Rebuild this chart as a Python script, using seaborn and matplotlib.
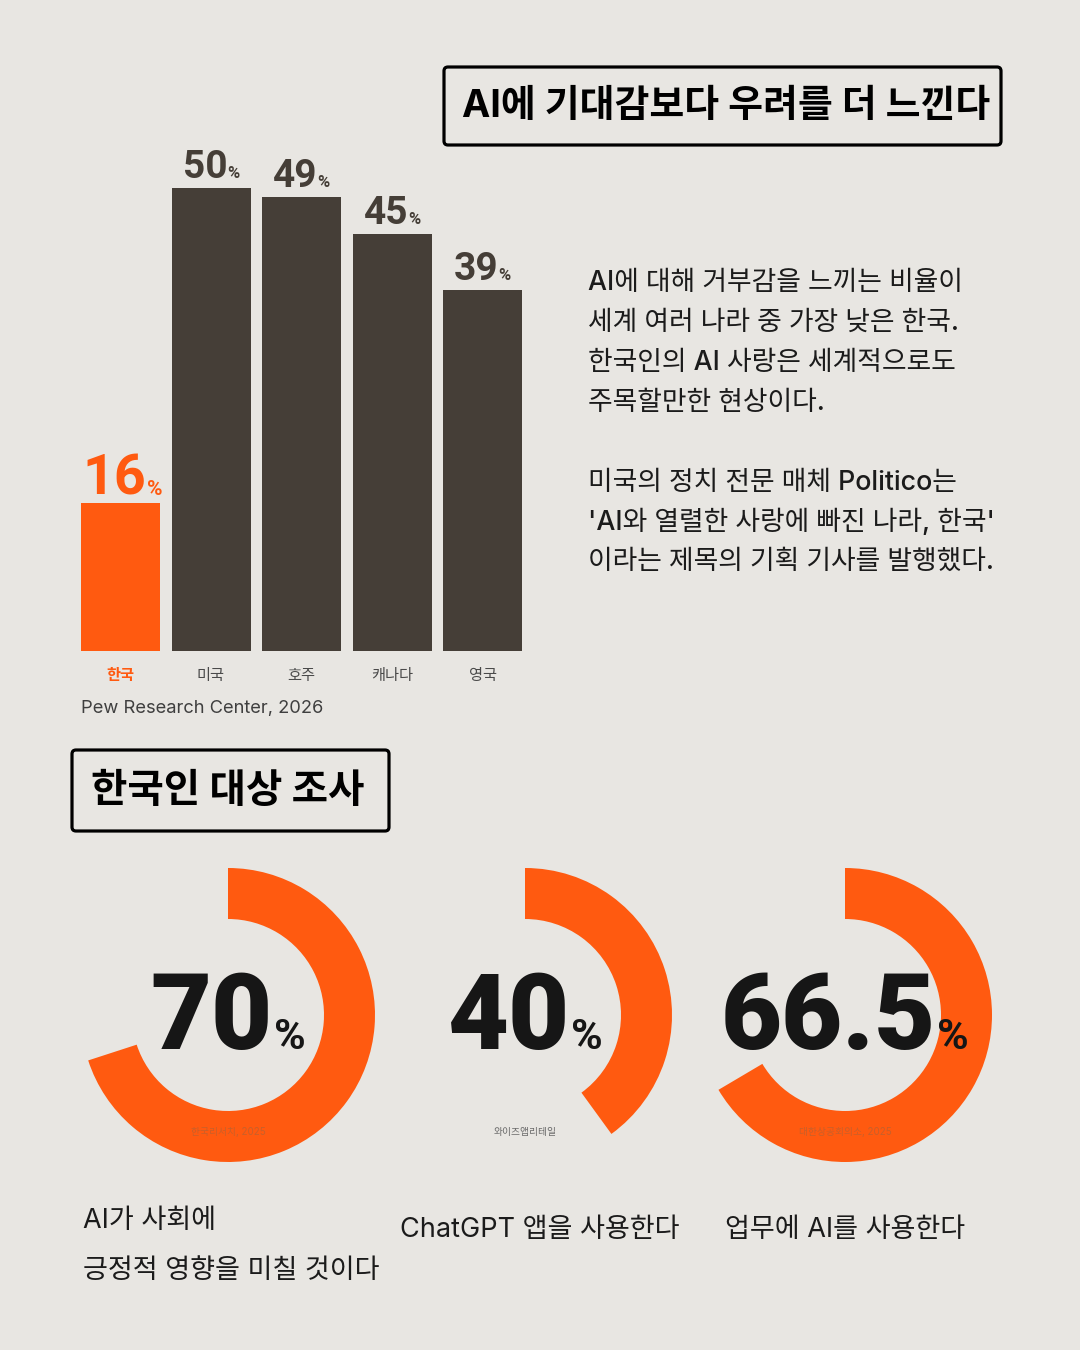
import numpy as np
import pandas as pd
import matplotlib
matplotlib.use("Agg")
import matplotlib.pyplot as plt
import seaborn as sns
from matplotlib.patches import FancyBboxPatch

# data
countries = ['한국', '미국', '호주', '캐나다', '영국']
aversion = [16, 50, 49, 45, 39]
survey_values = [70, 40, 66.5]
survey_labels = ['AI가 사회에\n긍정적 영향을 미칠 것이다', 'ChatGPT 앱을 사용한다', '업무에 AI를 사용한다']
survey_sources = ['한국리서치, 2025', '와이즈앱리테일', '대한상공회의소, 2025']
bar_source = 'Pew Research Center, 2026'
title_top = 'AI에 기대감보다 우려를 더 느낀다'
title_bottom = '한국인 대상 조사'
paragraph = ['AI에 대해 거부감을 느끼는 비율이',
             '세계 여러 나라 중 가장 낮은 한국.',
             '한국인의 AI 사랑은 세계적으로도',
             '주목할만한 현상이다.',
             '',
             '미국의 정치 전문 매체 Politico는',
             "'AI와 열렬한 사랑에 빠진 나라, 한국'",
             '이라는 제목의 기획 기사를 발행했다.']

BG = '#e8e6e2'
ORANGE = '#ff5a10'
DARK = '#453e37'
INK = '#1b1b1b'

sns.set_theme(style='white')
plt.rcParams['font.family'] = ['Inter', 'Noto Sans CJK KR', 'DejaVu Sans']
KR = ['Inter', 'Noto Sans CJK KR', 'DejaVu Sans']
NUM = ['Roboto', 'DejaVu Sans']

W, H = 1080, 1350
fig = plt.figure(figsize=(W / 100, H / 100), dpi=100, facecolor=BG)


def frac(x, y, w, h):
    # pixel box (top-left origin) -> figure fraction
    return [x / W, 1 - (y + h) / H, w / W, h / H]


# background layer in pixel coordinates
bg = fig.add_axes([0, 0, 1, 1])
bg.set_xlim(0, W)
bg.set_ylim(H, 0)
bg.axis('off')
bg.patch.set_alpha(0)


def boxed_title(x0, y0, x1, y1, text, tx, size):
    box = FancyBboxPatch((x0, y0), x1 - x0, y1 - y0,
                         boxstyle='round,pad=0,rounding_size=4',
                         fc='none', ec='black', lw=2.3)
    bg.add_patch(box)
    bg.text(tx, (y0 + y1) / 2 + 1, text, fontsize=size, fontweight='bold',
            color='black', ha='left', va='center', family=KR)


boxed_title(444, 67, 1001, 145, title_top, 462, 27.3)
boxed_title(72, 750, 389, 831, title_bottom, 91, 28.5)

# paragraph on the right
for i, line in enumerate(paragraph):
    if line:
        bg.text(588, 283 + i * 39.9, line, fontsize=19.3, color=INK,
                ha='left', va='center', family=KR, fontweight='medium')

# ---- bar chart ----
pitch = 90.5
ax = fig.add_axes(frac(120.5 - pitch / 2, 188, pitch * 5, 463))
df = pd.DataFrame({'country': countries, 'value': aversion})
bar_colors = [ORANGE] + [DARK] * (len(countries) - 1)
sns.barplot(data=df, x='country', y='value', hue='country', palette=bar_colors,
            legend=False, width=79 / pitch, saturation=1, linewidth=0, ax=ax)
ax.set_xlim(-0.5, len(countries) - 0.5)
ax.set_ylim(0, 50)
ax.set_facecolor('none')
for s in ax.spines.values():
    s.set_visible(False)
ax.set_yticks([])
ax.set_xlabel('')
ax.set_ylabel('')
ax.tick_params(axis='x', length=0, pad=12, labelsize=11)
for i, lab in enumerate(ax.get_xticklabels()):
    lab.set_family(KR)
    if i == 0:
        lab.set_color(ORANGE)
        lab.set_fontweight('bold')
    else:
        lab.set_color('#4a4a4a')

bg.text(81, 708, bar_source, fontsize=13.2, color='#3f3f3f', ha='left', va='center', family=['Inter', 'DejaVu Sans'])

fig.canvas.draw()
renderer = fig.canvas.get_renderer()


def pct_label(axis, x, y, num, nsize, psize, color, dy_px, weight='bold', gap=1, dx_px=0):
    # number + small percent sign, centred together above (x, y)
    a = axis.annotate(num, (x, y), xytext=(0, 0), textcoords='offset points',
                      fontsize=nsize, fontweight=weight, color=color, family=NUM,
                      ha='left', va='baseline', annotation_clip=False, zorder=5)
    b = axis.annotate('%', (x, y), xytext=(0, 0), textcoords='offset points',
                      fontsize=psize, fontweight='bold', color=color, family=NUM,
                      ha='left', va='baseline', annotation_clip=False, zorder=5)
    wa = a.get_window_extent(renderer).width
    wb = b.get_window_extent(renderer).width
    k = 72 / 100
    start = -(wa + gap + wb) / 2 + dx_px
    a.xyann = (start * k, dy_px * k)
    b.xyann = ((start + wa + gap) * k, dy_px * k)


for i, v in enumerate(aversion):
    if i == 0:
        pct_label(ax, i, v, str(v), 40, 15, ORANGE, 8, dx_px=2, gap=0)
    else:
        pct_label(ax, i, v, str(v), 28, 12, DARK, 10, gap=0)

# ---- donuts ----
centers = [228, 525, 845]
R = 147
for cx, v, lab, src in zip(centers, survey_values, survey_labels, survey_sources):
    dax = fig.add_axes(frac(cx - R, 1015 - R, 2 * R, 2 * R))
    dax.pie([v, 100 - v], colors=[ORANGE, 'none'], startangle=90, counterclock=False,
            wedgeprops=dict(width=51 / R, linewidth=0), radius=1)
    dax.set_xlim(-1, 1)
    dax.set_ylim(-1, 1)
    dax.set_aspect('equal')
    dax.axis('off')
    pct_label(dax, 0, -34 / R, f'{v:g}', 76, 31, '#161616', 0, weight='black', gap=1)
    on_arc = v > 50
    dax.text(0, -117 / R, src, fontsize=7, ha='center', va='center', family=KR,
             color='#c8602a' if on_arc else '#6a6a6a')

bg.text(83, 1246, survey_labels[0], fontsize=19.5, color=INK, ha='left', va='center',
        family=KR, linespacing=2.15)
bg.text(400, 1230, survey_labels[1], fontsize=19.5, color=INK, ha='left', va='center', family=KR)
bg.text(725, 1230, survey_labels[2], fontsize=19.5, color=INK, ha='left', va='center', family=KR)

fig.savefig('out.png', dpi=100, facecolor=BG)
